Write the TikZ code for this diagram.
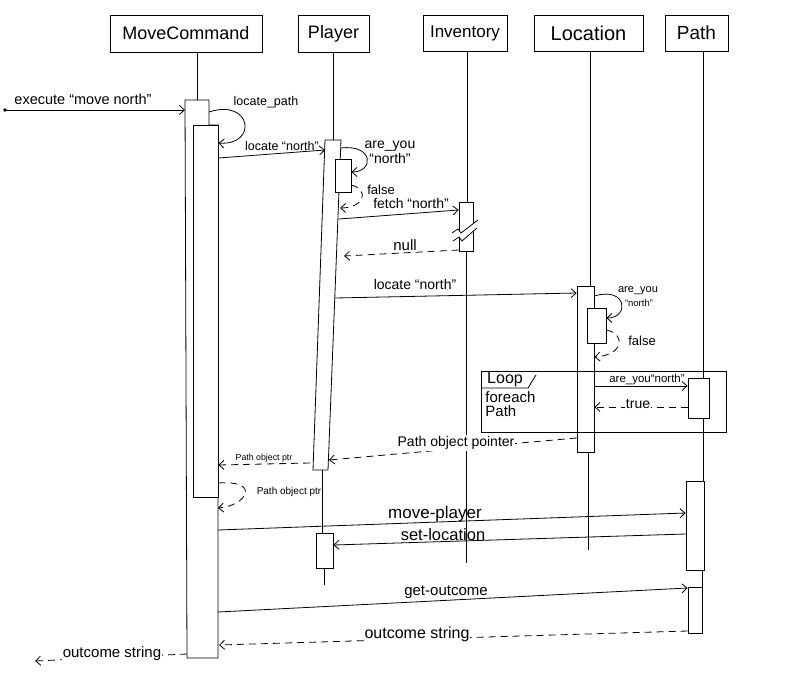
\documentclass[tikz,border=0pt]{standalone}
\usepackage{fontspec}
\setmainfont{Liberation Sans}
\usetikzlibrary{arrows.meta}
\newcommand{\fsz}[1]{\fontsize{#1}{#1}\selectfont}
\begin{document}
\begin{tikzpicture}[x=1pt,y=-1pt, line width=0.8pt,
  hdr/.style={draw, inner sep=0pt, font=\fsz{18}},
  act/.style={draw, fill=white, inner sep=0pt},
  msg/.style={-{Straight Barb[length=5pt,width=9pt]}},
  ret/.style={msg, dash pattern=on 7pt off 5pt},
  lbl/.style={inner sep=1pt},
  wl/.style={fill=white}]
\useasboundingbox (0,0) rectangle (800,685);

% headers
\node[hdr, minimum width=152pt, minimum height=37pt] (mc) at (186,33.5) {MoveCommand};
\node[hdr, minimum width=71pt, minimum height=37pt] (pl) at (333.5,33.5) {Player};
\node[hdr, minimum width=84pt, minimum height=36pt, font=\fsz{17}] (inv) at (465,33) {Inventory};
\node[hdr, minimum width=109pt, minimum height=36pt, font=\fsz{20}] (loc) at (588.5,33) {Location};
\node[hdr, minimum width=63pt, minimum height=36pt, font=\fsz{19}] (pa) at (696.5,33) {Path};

% lifelines
\coordinate (mcTop) at (197,100);
\draw (mc.south -| mcTop) -- (mcTop);
\draw (pl.south) -- (333.5,140);
\draw (322,470) -- (322,533);
\draw (324,568) -- (324,585);
\draw (inv.south -| 467,0) -- (467,202);
\draw (466,251) -- (466,563);
\draw (loc.south -| 590,0) -- (590,286);
\draw (588,452) -- (588,550);
\draw (pa.south -| 703,0) -- (703,378);
\draw (703,418) -- (703,481);
\draw (702,570) -- (702,587);

% MoveCommand activations
\draw[fill=white] (185,100) -- (209,100) -- (209,125) -- (218,125) -- (218,658) -- (187,658) -- cycle;
\coordinate (mcL) at (185,100);
\node[act, minimum width=25pt, minimum height=372pt] (mcB) at (205.5,311) {};

% Player activations
\coordinate (pA1) at (325,140);
\coordinate (pA2) at (341,140);
\coordinate (pA3) at (328,470);
\coordinate (pA4) at (313,470);
\draw[fill=white] (pA1) -- (pA2) -- (pA3) -- (pA4) -- cycle;
\node[act, minimum width=16pt, minimum height=33pt] (pB) at (343,175.5) {};
\node[act, minimum width=17pt, minimum height=35pt] (pC) at (324.5,550.5) {};

% Inventory activation
\node[act, minimum width=14pt, minimum height=49pt] (iA) at (466,226.5) {};
\fill[white] (452,233) -- (458,229) -- (461,233) -- (478,220) -- (477,228) -- (462,241) -- (459,237) -- (453,241) -- cycle;
\draw (452,233) -- (458,229) -- (461,233) -- (478,220);
\draw (453,241) -- (459,237) -- (462,241) -- (477,228);

% Location activations
\node[act, minimum width=17pt, minimum height=166pt] (lA) at (585.5,369) {};
\node[act, minimum width=19pt, minimum height=35pt] (lB) at (596.5,325.5) {};

% Path activations
\node[act, minimum width=21pt, minimum height=40pt] (paA) at (698.5,398) {};
\node[act, minimum width=18pt, minimum height=89pt] (paB) at (695,525.5) {};
\node[act, minimum width=14pt, minimum height=46pt] (paC) at (695,610) {};

% Loop frame
\draw (481,371) rectangle (726,432);
\draw (481,388) -- (528,388) -- (536,375);
\node[font=\fsz{16}, inner sep=0pt] (loopt) at (505,380) {Loop};
\node[font=\fontsize{15}{14}\selectfont, align=left, inner sep=0pt, anchor=north west] (loopc) at (485,391) {foreach\\Path};

% 1 execute
\coordinate (start) at (5,110);
\fill (start) circle (1.8pt);
\draw[msg] (start) -- (mcL |- 0,110);
\node[lbl, font=\fsz{14.5}] (l1) at (83,99) {execute “move north”};

% 2 locate path (self)
\draw[msg] (209,112) .. controls (252,98) and (258,146) .. (mcB.east |- 0,143);
\node[lbl, font=\fsz{12.5}] (l2) at (266,102) {locate\_path};

% 3 locate north -> Player
\draw[msg] (mcB.east |- 0,158) -- (pA1 |- 0,150);
\node[lbl, font=\fsz{12.5}] (l3) at (282,146) {locate “north”};

% 4 are you north (self, Player)
\draw[msg] (341,148) .. controls (374,144) and (374,172) .. (pB.east |- 0,172);
\node[lbl, align=center, font=\fontsize{14}{15}\selectfont] (l4) at (390,152) {are\_you\\“north”};

% 5 false
\draw[ret] (pB.east |- 0,185) .. controls (370,190) and (364,208) .. (340,208);
\node[lbl, font=\fsz{13}] (l5) at (381,190) {false};

% 6 fetch north
\draw[msg] (339,219) -- (iA.west |- 0,210);
\node[lbl, font=\fsz{14}] (l6) at (411,203) {fetch “north”};

% 7 null
\draw[ret] (iA.west |- 0,250) -- (344,256);
\node[lbl, wl, font=\fsz{15}] (l7) at (405,245) {null};

% 8 locate north -> Location
\draw[msg] (335,298) -- (lA.west |- 0,293);
\node[lbl, font=\fsz{14}] (l8) at (415,284) {locate “north”};

% 9 are you north (self, Location)
\draw[msg] (lA.east |- 0,296) .. controls (627,286) and (630,318) .. (lB.east |- 0,318);
\node[font=\fsz{11}, inner sep=0pt] (l9a) at (638,291) {are\_you};
\node[font=\fsz{9.5}, inner sep=0pt] (l9b) at (639,303) {“north”};

% 10 false
\draw[ret] (lB.east |- 0,330) .. controls (626,334) and (624,355) .. (lA.east |- 0,357);
\node[lbl, font=\fsz{13}] (l10) at (642,341) {false};

% 11 are you north (loop)
\draw[msg] (lA.east |- 0,386) -- (paA.west |- 0,386);
\node[font=\fsz{11.5}, inner sep=0pt] (l11) at (647,380) {are\_you“north”};

% 12 true
\draw[ret] (paA.west |- 0,407) -- (lA.east |- 0,407);
\node[lbl, wl, font=\fsz{14}] (l12) at (638,404) {true};

% 13 Path object pointer
\draw[ret] (lA.west |- 0,438) -- (329,460);
\node[lbl, wl, font=\fsz{14}] (l13) at (456,443) {Path object pointer};

% 14 Path object ptr
\draw[ret] (310,463) -- (mcB.east |- 0,465);
\node[lbl, wl, font=\fsz{8.8}] (l14) at (264,458) {Path object ptr};

% 15 Path object ptr (self)
\draw[ret] (mcB.east |- 0,483) .. controls (262,480) and (246,506) .. (218,508);
\node[lbl, font=\fsz{10}] (l15) at (289,492) {Path object ptr};

% 16 move-player
\draw[msg] (218,530) -- (paB.west |- 0,513);
\node[lbl, font=\fsz{17}] (l16) at (435,514) {move-player};

% 17 set-location
\draw[msg] (paB.west |- 0,534) -- (pC.east |- 0,545);
\node[lbl, font=\fsz{16.5}] (l17) at (443,535) {set-location};

% 18 get-outcome
\draw[msg] (218,612) -- (paC.west |- 0,588);
\node[lbl, font=\fsz{15}] (l18) at (446,592) {get-outcome};

% 19 outcome string
\draw[ret] (paC.west |- 0,631) -- (219,645);
\node[lbl, wl, font=\fsz{16}] (l19) at (417,634) {outcome string};

% 20 outcome string (out)
\coordinate (endp) at (35,661);
\draw[ret] (187,654) -- (endp);
\node[lbl, wl, font=\fsz{15}] (l20) at (112,654) {outcome string};
\end{tikzpicture}
\end{document}
